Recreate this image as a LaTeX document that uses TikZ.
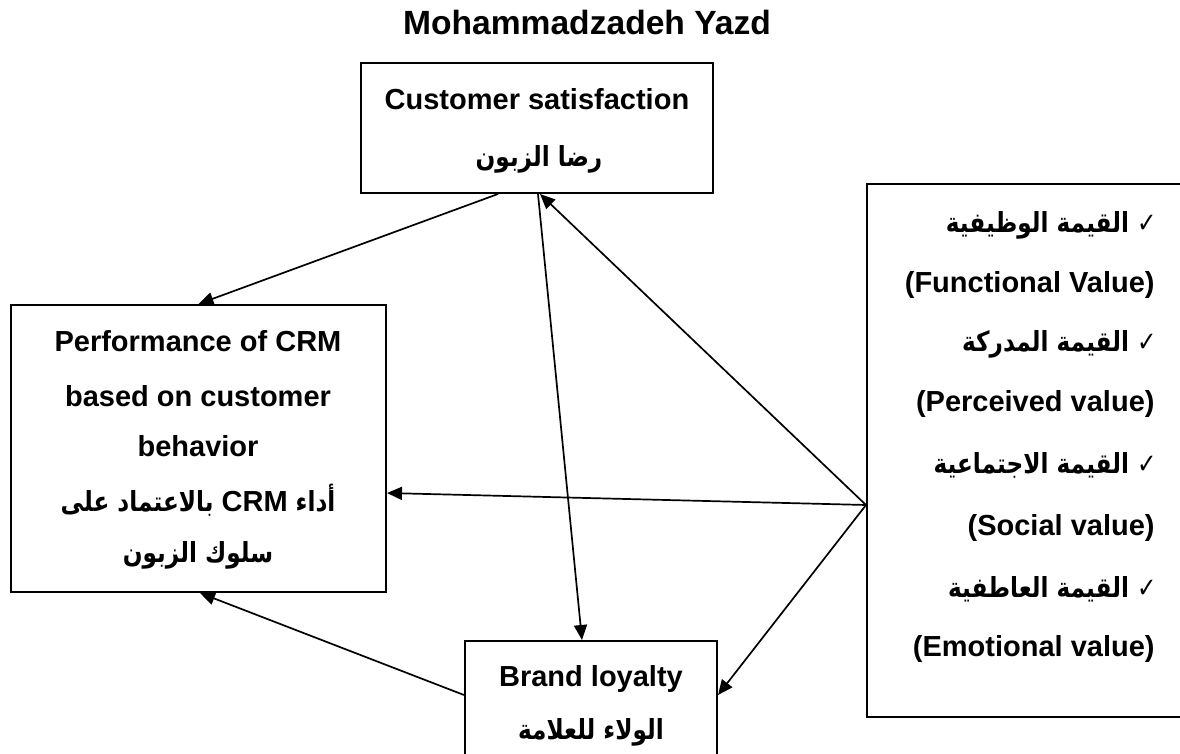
\documentclass[tikz,border=0pt]{standalone}
\usepackage{fontspec}
\setmainfont{Liberation Sans}
\newfontfamily\arfont[Script=Arabic,FakeStretch=0.84]{DejaVu Sans}
\newfontfamily\latf{Liberation Sans}
\TeXXeTstate=1
\usetikzlibrary{arrows.meta,calc}
\begin{document}
\begin{tikzpicture}[x=0.5pt,y=-0.5pt,
  box/.style={draw,line width=1pt,rectangle,inner sep=0pt},
  conn/.style={line width=0.85pt,-{Triangle[length=7.5pt,width=6.5pt]}},
  lat/.style={font=\fontsize{14.5}{17}\selectfont\bfseries,inner sep=0pt},
  arb/.style={font=\fontsize{13.8}{17}\selectfont\arfont\bfseries,inner sep=0pt},
  ttl/.style={font=\fontsize{16.8}{20}\selectfont\bfseries,inner sep=0pt}]
\clip (0,0) rectangle (1180,754);
% title
\node[ttl,anchor=base] (title) at (587,35) {Mohammadzadeh Yazd};
% boxes
\node[box,minimum width=176pt,minimum height=65pt] (cs) at (537,128) {};
\node[box,minimum width=187.5pt,minimum height=143.5pt] (perf) at (198.5,448.5) {};
\node[box,minimum width=126pt,minimum height=59.5pt] (bl) at (591,700.5) {};
\node[box,minimum width=166.5pt,minimum height=266.5pt] (rt) at (1033.5,450.5) {};
% texts in CS
\node[lat,anchor=base] (cs1) at (537,110) {Customer satisfaction};
\node[arb,anchor=base] (cs2) at (539,167) {\beginR رضا الزبون\endR};
% texts in Perf
\node[lat,anchor=base] (p1) at (198,352) {Performance of CRM};
\node[lat,anchor=base] (p2) at (198,407) {based on customer};
\node[lat,anchor=base] (p3) at (198,457) {behavior};
\node[arb,anchor=base] (p4) at (198,512) {\beginR أداء {\latf\fontsize{14.5}{17}\selectfont\bfseries\beginL CRM\endL} بالاعتماد على\endR};
\node[arb,anchor=base] (p5) at (198,563) {\beginR سلوك الزبون\endR};
% texts in BL
\node[lat,anchor=base] (b1) at (591,687) {Brand loyalty};
\node[arb,anchor=base] (b2) at (591,740) {\beginR الولاء للعلامة\endR};
% texts in right box
\node[arb,anchor=base east] (r1) at (1157,233) {\beginR{\mdseries ✓} القيمة الوظيفية\endR};
\node[lat,anchor=base east] (r2) at (1155,293) {(Functional Value)};
\node[arb,anchor=base east] (r3) at (1157,352) {\beginR{\mdseries ✓} القيمة المدركة\endR};
\node[lat,anchor=base east] (r4) at (1155,412) {(Perceived value)};
\node[arb,anchor=base east] (r5) at (1157,474) {\beginR{\mdseries ✓} القيمة الاجتماعية\endR};
\node[lat,anchor=base east] (r6) at (1155,536) {(Social value)};
\node[arb,anchor=base east] (r7) at (1157,597) {\beginR{\mdseries ✓} القيمة العاطفية\endR};
\node[lat,anchor=base east] (r8) at (1155,657) {(Emotional value)};
% connectors
\coordinate (rp) at ($(rt.west)+(0,54.5)$);
\draw[conn] ($(cs.south)+(-39,0)$) -- (perf.north);
\draw[conn] (rp) -- ($(perf.east)+(0,44.5)$);
\draw[conn] (rp) -- ($(cs.south)+(3,0)$);
\draw[conn] (rp) -- ($(bl.east)+(0,-5.5)$);
\draw[conn] ($(cs.south)+(1,0)$) -- ($(bl.north)+(-9,0)$);
\draw[conn] ($(bl.west)+(0,-5.5)$) -- ($(perf.south)+(1.5,0)$);
\end{tikzpicture}
\end{document}
